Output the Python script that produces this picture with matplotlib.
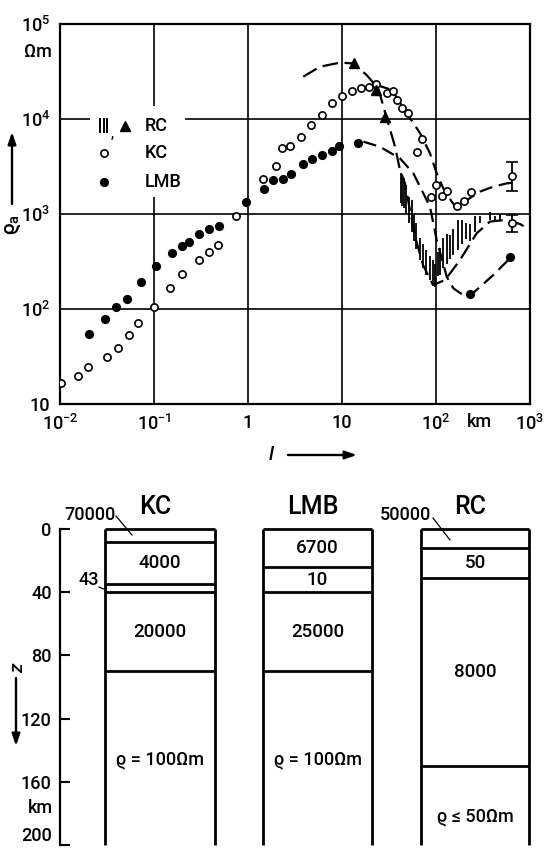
import matplotlib
matplotlib.use('Agg')
import matplotlib.pyplot as plt
from matplotlib.patches import Rectangle, FancyArrowPatch
from matplotlib.lines import Line2D
import numpy as np

plt.rcParams['font.family'] = ['Roboto', 'DejaVu Sans']
plt.rcParams['font.weight'] = 'medium'
plt.rcParams['mathtext.default'] = 'regular'

# ---------------- data: apparent resistivity curves ----------------
kc_x = [0.0102, 0.0157, 0.0197, 0.0316, 0.0411, 0.0538, 0.068, 0.100, 0.148, 0.197,
        0.302, 0.388, 0.483, 0.751, 1.45, 1.97, 2.30, 2.82, 3.67, 4.64, 6.08, 7.83,
        10.0, 12.9, 15.9, 19.5, 23.2, 30.2, 34.5, 38.1, 43.1, 50.0, 62.4, 71.7,
        88.5, 101, 115, 132, 169, 199, 236]
kc_y = [16.7, 19.7, 24.7, 31.5, 38.9, 52.8, 70.6, 104, 167, 234,
        324, 395, 475, 955, 2320, 3200, 4900, 5200, 6450, 8650, 11000, 14800,
        17600, 19900, 21000, 21900, 23300, 18600, 19900, 15850, 13200, 11600, 4480, 6100,
        1520, 2040, 1550, 1760, 1210, 1380, 1700]

kc_err_x = [646, 638]
kc_err_y = [2520, 800]
kc_err_lo = [1740, 650]
kc_err_hi = [3550, 980]

lmb_x = [0.0204, 0.0303, 0.0392, 0.0513, 0.0733, 0.104, 0.154, 0.197, 0.236, 0.299,
         0.388, 0.495, 0.946, 1.49, 1.83, 2.34, 2.84, 3.82, 4.83, 6.17, 7.76, 9.36,
         14.7, 230, 612]
lmb_y = [54.2, 78.5, 104, 127, 191, 281, 392, 460, 511, 621,
         700, 748, 1340, 1820, 2280, 2340, 2620, 3390, 3770, 4210, 4640, 5170,
         5580, 144, 350]

rc_x = [13.4, 22.9, 28.6]
rc_y = [38500, 20400, 10400]

rc_bar_x = [42, 44, 46, 48, 51, 55, 58, 62, 68, 73, 79, 86, 92, 97, 105, 110, 120,
            130, 141, 153, 173, 188, 209, 230, 260, 294, 376, 425, 480]
rc_bar_lo = [1300, 1200, 1150, 1000, 800, 650, 520, 430, 330, 270, 230, 200, 180, 170,
             220, 230, 270, 300, 340, 370, 420, 480, 550, 520, 640, 800, 860, 820, 850]
rc_bar_hi = [2700, 2600, 2400, 2000, 1500, 1400, 1000, 800, 560, 480, 420, 360, 330, 300,
             400, 440, 560, 620, 600, 700, 860, 870, 800, 780, 950, 950, 1060, 950, 1000]

# model curves
kc_cx = [23.4, 34, 48.8, 67.6, 86.3, 101.7, 119.6, 147, 166, 212, 294, 407, 565, 663]
kc_cy = [22800, 20200, 11500, 7100, 4350, 2680, 1860, 1350, 1150, 1400, 1720, 1940, 2100, 2140]

rc_cx = [3.87, 5.83, 9.5, 13.2, 18.3, 24.3, 29.9, 36.7, 41.4, 46.8, 52.8, 61.2, 72.8,
         93, 125, 180, 271, 375, 542, 783, 1000]
rc_cy = [27900, 35500, 39200, 38500, 29000, 21000, 10200, 5100, 2900, 2100, 1100, 535, 290,
         179, 202, 328, 627, 832, 865, 785, 675]

lmb_cx = [16.9, 25.3, 41.4, 57.4, 73.3, 86.3, 101.7, 130, 153, 195, 240, 407, 612]
lmb_cy = [5770, 5100, 3850, 2680, 1650, 1190, 532, 219, 165, 140, 143, 228, 342]

xtick_vals = [1e-2, 1e-1, 1, 10, 1e2, 1e3]
xtick_labels = [r'$\mathregular{10^{-2}}$', r'$\mathregular{10^{-1}}$', '1', '10',
                r'$\mathregular{10^{2}}$', r'$\mathregular{10^{3}}$']
ytick_vals = [10, 1e2, 1e3, 1e4, 1e5]
ytick_labels = ['10', r'$\mathregular{10^{2}}$', r'$\mathregular{10^{3}}$',
                r'$\mathregular{10^{4}}$', r'$\mathregular{10^{5}}$']

# ---------------- data: layered models ----------------
kc_tops = [0, 8, 35, 40, 90]
kc_rho = ['70000', '4000', '43', '20000', '100']
lmb_tops = [0, 24, 40, 90]
lmb_rho = ['6700', '10', '25000', '100']
rc_tops = [0, 12, 31, 150]
rc_rho = ['50000', '50', '8000', '50']
z_ticks = [0, 40, 80, 120, 160, 200]

# ---------------- figure ----------------
W, H = 544, 850
fig = plt.figure(figsize=(W / 100, H / 100), dpi=100)


def fx(px):
    return px / W


def fy(py):
    return 1 - py / H


def ftext(px, py, s, **kw):
    kw.setdefault('ha', 'center')
    kw.setdefault('va', 'center')
    return fig.text(fx(px), fy(py), s, **kw)


def fline(p0, p1, **kw):
    fig.add_artist(Line2D([fx(p0[0]), fx(p1[0])], [fy(p0[1]), fy(p1[1])],
                          transform=fig.transFigure, color='black', **kw))


def farrow(p0, p1):
    fig.add_artist(FancyArrowPatch(
        (fx(p0[0]), fy(p0[1])), (fx(p1[0]), fy(p1[1])), transform=fig.transFigure,
        arrowstyle='-|>,head_length=7,head_width=2.4', color='black', lw=1.7,
        mutation_scale=1, shrinkA=0, shrinkB=0))


# ---- upper panel ----
ax = fig.add_axes([fx(60), fy(404), 470 / W, 380 / H])
ax.set_xscale('log')
ax.set_yscale('log')
ax.set_xlim(1e-2, 1e3)
ax.set_ylim(10, 1e5)
ax.minorticks_off()
ax.set_xticks(xtick_vals, xtick_labels)
ax.set_yticks(ytick_vals, ytick_labels)
ax.tick_params(length=0, pad=7, labelsize=13)
ax.grid(True, color='black', lw=1.2)
for s in ax.spines.values():
    s.set_linewidth(1.6)

# legend cut-out in the grid
ax.add_patch(Rectangle((0.064, 0.545), 0.202, 0.239, transform=ax.transAxes,
                       fc='white', ec='none', zorder=1.8))

ax.vlines(rc_bar_x, rc_bar_lo, rc_bar_hi, color='black', lw=1.3, zorder=3)
ax.plot(kc_cx, kc_cy, color='black', lw=1.6, dashes=(6, 3), zorder=3)
ax.plot(rc_cx, rc_cy, color='black', lw=1.6, dashes=(7, 3), zorder=3)
ax.plot(lmb_cx, lmb_cy, color='black', lw=1.6, dashes=(6, 3), zorder=3)

ax.plot(kc_x, kc_y, 'o', mfc='white', mec='black', ms=5.2, mew=1.2, zorder=4)
kc_err_y_a = np.array(kc_err_y)
ax.errorbar(kc_err_x, kc_err_y,
            yerr=[kc_err_y_a - np.array(kc_err_lo), np.array(kc_err_hi) - kc_err_y_a],
            fmt='o', mfc='white', mec='black', ms=5.2, mew=1.2, ecolor='black',
            elinewidth=1.3, capsize=4, capthick=1.3, zorder=4)
ax.plot(lmb_x, lmb_y, 'o', color='black', ms=5.6, zorder=4)
ax.plot(rc_x, rc_y, '^', color='black', ms=6.5, zorder=4)

# legend
lt = ax.transAxes
for bx in (0.085, 0.093, 0.101):
    ax.plot([bx, bx], [0.716, 0.750], color='black', lw=1.4, transform=lt, zorder=5)
ax.text(0.112, 0.712, ',', transform=lt, fontsize=10, ha='center', va='center', zorder=5)
ax.plot([0.138], [0.732], '^', color='black', ms=6.5, transform=lt, zorder=5)
ax.plot([0.094], [0.661], 'o', mfc='white', mec='black', ms=5.2, mew=1.2, transform=lt, zorder=5)
ax.plot([0.094], [0.585], 'o', color='black', ms=5.6, transform=lt, zorder=5)
for yy, s in ((0.732, 'RC'), (0.661, 'KC'), (0.585, 'LMB')):
    ax.text(0.181, yy, s, transform=lt, fontsize=13, ha='left', va='center', zorder=5)

# axis annotations
ftext(38, 52, 'Ωm', fontsize=13)
ftext(479, 422, 'km', fontsize=13)
ftext(13, 224, r'$\varrho_a$', fontsize=15, rotation=90)
farrow((12, 204), (12, 132))
ftext(271, 455, 'l', fontsize=14, style='italic')
farrow((288, 455), (357, 455))

# ---- lower panel ----
ax2 = fig.add_axes([fx(60), fy(845), 470 / W, 316 / H])
ax2.set_xlim(0, 1)
ax2.set_ylim(200, 0)
for side in ('top', 'right', 'bottom'):
    ax2.spines[side].set_visible(False)
ax2.spines['left'].set_linewidth(1.6)
ax2.set_xticks([])
ax2.set_yticks(z_ticks, [str(t) for t in z_ticks])
ax2.tick_params(axis='y', direction='in', length=7, width=1.5, labelsize=13, pad=6)
ax2.get_yticklabels()[-1].set_verticalalignment('bottom')
ax2.patch.set_visible(False)

cols = [((105 - 60) / 470, (215 - 60) / 470, kc_tops),
        ((263 - 60) / 470, (372 - 60) / 470, lmb_tops),
        ((421 - 60) / 470, (529 - 60) / 470, rc_tops)]
for x0, x1, tops in cols:
    ax2.vlines([x0, x1], 0, 200, color='black', lw=2, clip_on=False)
    ax2.hlines(tops, x0, x1, color='black', lw=2, clip_on=False)


def ltext(col, z, s, **kw):
    x0, x1, _ = cols[col]
    kw.setdefault('fontsize', 13.5)
    ax2.text((x0 + x1) / 2, z, s, ha='center', va='center', **kw)


# KC
ltext(0, (kc_tops[1] + kc_tops[2]) / 2, kc_rho[1])
ltext(0, (kc_tops[3] + kc_tops[4]) / 2, kc_rho[3])
ltext(0, 146, 'ϱ = ' + kc_rho[4] + 'Ωm', fontsize=13)
ftext(90, 515, kc_rho[0], fontsize=13)
fline((116, 516), (132, 535), lw=0.9)
ftext(89, 580, kc_rho[2], fontsize=13)
fline((99, 587), (106, 590), lw=0.9)
# LMB
ltext(1, (lmb_tops[0] + lmb_tops[1]) / 2, lmb_rho[0])
ltext(1, (lmb_tops[1] + lmb_tops[2]) / 2, lmb_rho[1])
ltext(1, (lmb_tops[2] + lmb_tops[3]) / 2, lmb_rho[2])
ltext(1, 146, 'ϱ = ' + lmb_rho[3] + 'Ωm', fontsize=13)
# RC
ltext(2, (rc_tops[1] + rc_tops[2]) / 2, rc_rho[1])
ltext(2, (rc_tops[2] + rc_tops[3]) / 2, rc_rho[2])
ltext(2, 182, 'ϱ ≤ ' + rc_rho[3] + 'Ωm', fontsize=13)
ftext(405, 515, rc_rho[0], fontsize=13)
fline((433, 518), (450, 540), lw=0.9)

# column titles
ftext(155, 507, 'KC', fontsize=18)
ftext(313, 507, 'LMB', fontsize=18)
ftext(470, 507, 'RC', fontsize=18)

ftext(40, 808, 'km', fontsize=13)
ftext(18, 668, 'z', fontsize=14, style='italic', rotation=90)
farrow((16, 678), (16, 746))

fig.savefig('out.png', dpi=100)
